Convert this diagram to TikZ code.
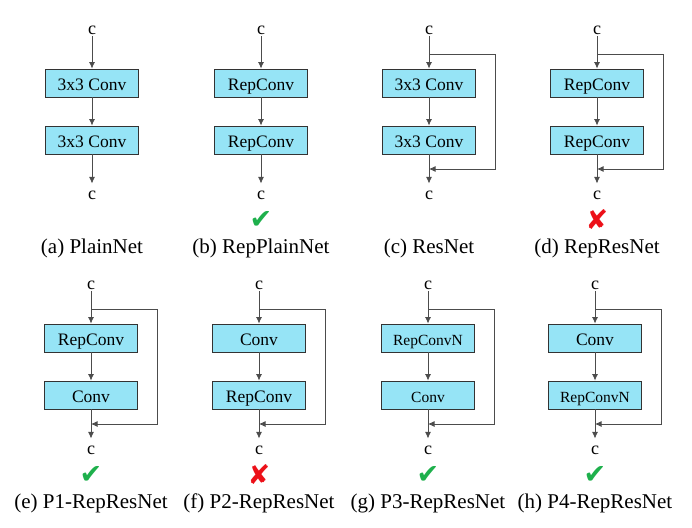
\documentclass[tikz,border=0pt]{standalone}
\usepackage{fontspec}
\setmainfont{Liberation Serif}
\newfontfamily\symbfont{DejaVu Sans}
\usetikzlibrary{arrows.meta}
\definecolor{convfill}{RGB}{150,228,246}
\definecolor{okgreen}{RGB}{30,176,76}
\definecolor{nored}{RGB}{236,16,24}
\newcommand{\smallconv}{\fontsize{15.5}{18}\selectfont}

\begin{document}
\begin{tikzpicture}[x=1pt,y=-1pt,
  conv/.style={draw=black!80, line width=0.9pt, fill=convfill, minimum width=93pt, minimum height=28pt, inner sep=0pt, text height=15.5pt, text depth=0pt, font=\fontsize{17.5}{20}\selectfont},
  chan/.style={inner sep=1pt, font=\fontsize{18}{20}\selectfont},
  caption/.style={font=\fontsize{21}{24}\selectfont},
  mk/.style={inner sep=0pt, font=\symbfont\fontsize{27}{30}\selectfont},
  link/.style={draw=black!70, line width=0.8pt, -{Latex[length=6.5pt,width=6pt]}}]
\useasboundingbox (0,0) rectangle (692,527);
% one column per variant: name/x/y/block 1/block 2/shortcut/mark/caption
\foreach \id/\X/\Y/\ta/\tb/\sk/\mark/\txt in {
  a/92/0/3x3 Conv/3x3 Conv/0//(a) PlainNet,
  b/261/0/RepConv/RepConv/0/{\color{okgreen}✔}/(b) RepPlainNet,
  c/429/0/3x3 Conv/3x3 Conv/1//(c) ResNet,
  d/597/0/RepConv/RepConv/1/{\color{nored}✘}/(d) RepResNet,
  e/91/255/RepConv/Conv/1/{\color{okgreen}✔}/(e) P1-RepResNet,
  f/259/255/Conv/RepConv/1/{\color{nored}✘}/(f) P2-RepResNet,
  g/428/255/{\smallconv RepConvN}/{\smallconv Conv}/1/{\color{okgreen}✔}/(g) P3-RepResNet,
  h/595/255/Conv/{\smallconv RepConvN}/1/{\color{okgreen}✔}/(h) P4-RepResNet}{
  \node[chan] (in\id) at (\X,\Y+30.5) {c};
  \node[conv] (ba\id) at (\X,\Y+83) {\ta};
  \node[conv] (bb\id) at (\X,\Y+140) {\tb};
  \node[chan] (out\id) at (\X,\Y+195) {c};
  \node[mk] (mk\id) at (\X,\Y+220) {\mark};
  \node[caption] (cap\id) at (\X,\Y+248) {\txt};
  \draw[link] (in\id) -- (ba\id);
  \draw[link] (ba\id) -- (bb\id);
  \draw[link, shorten >=6pt] (bb\id) -- (out\id);
  \ifnum\sk=1
    \coordinate (sa\id) at (\X,\Y+54);
    \coordinate (sb\id) at (\X,\Y+169);
    \draw[link] (sa\id) -- ++(66,0) |- (sb\id);
  \fi
}
\end{tikzpicture}
\end{document}
